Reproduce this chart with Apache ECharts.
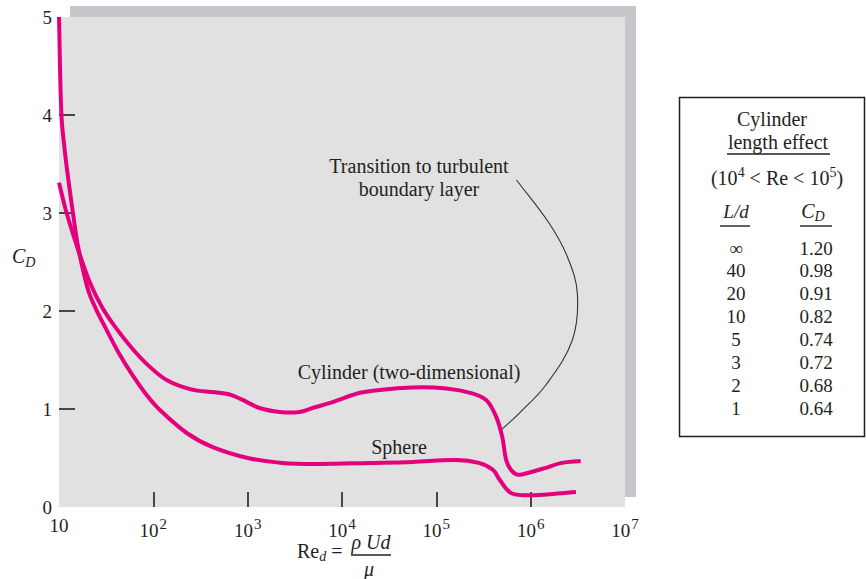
<!DOCTYPE html>
<html><head><meta charset="utf-8">
<script src="https://cdn.jsdelivr.net/npm/echarts@6/dist/echarts.min.js"></script>
<style>html,body{margin:0;padding:0;background:#fff}#c{width:866px;height:579px}</style>
</head><body><div id="c"></div>
<script>
// ---- data (x values are log10(Re_d)) ----
const xTickExponents = [1, 2, 3, 4, 5, 6, 7];
const yTickValues = [0, 1, 2, 3, 4, 5];
const sphereLogRe = [1.00, 1.026, 1.063, 1.106, 1.148, 1.196, 1.254, 1.317, 1.392, 1.508, 1.635, 1.783, 1.931, 2.069, 2.354, 2.630, 3.00, 3.37, 3.76, 4.30, 4.75, 5.20, 5.45, 5.60, 5.67, 5.78, 5.92, 6.20, 6.48];
const sphereCD    = [5.00, 4.00, 3.62, 3.29, 3.00, 2.69, 2.42, 2.19, 2.02, 1.80, 1.57, 1.34, 1.14, 0.99, 0.755, 0.61, 0.50, 0.45, 0.44, 0.45, 0.46, 0.48, 0.45, 0.38, 0.28, 0.15, 0.12, 0.13, 0.153];
const cylinderLogRe = [1.00, 1.081, 1.201, 1.328, 1.455, 1.593, 1.783, 1.963, 2.15, 2.40, 2.65, 2.80, 2.93, 3.127, 3.339, 3.55, 3.688, 3.90, 4.22, 4.746, 5.106, 5.38, 5.53, 5.635, 5.70, 5.74, 5.79, 5.86, 5.98, 6.16, 6.33, 6.53];
const cylinderCD    = [3.31, 3.00, 2.63, 2.29, 2.04, 1.84, 1.61, 1.43, 1.29, 1.20, 1.17, 1.15, 1.10, 1.01, 0.97, 0.97, 1.01, 1.07, 1.17, 1.22, 1.21, 1.16, 1.09, 0.92, 0.71, 0.48, 0.38, 0.33, 0.35, 0.40, 0.45, 0.47];
const leaderLogRe = [5.850, 6.196, 6.389, 6.495, 6.442, 6.161, 5.878, 5.694];
const leaderCD    = [3.337, 2.895, 2.554, 2.181, 1.704, 1.245, 0.956, 0.793];
const tableLd = ['∞', '40', '20', '10', '5', '3', '2', '1'];
const tableCD = ['1.20', '0.98', '0.91', '0.82', '0.74', '0.72', '0.68', '0.64'];

// ---- styling ----
const SERIF = '"Liberation Serif", "Times New Roman", serif';
const INK = '#231f20';
const MAGENTA = '#e4007c';
const zip = (a, b) => a.map((v, i) => [v, b[i]]);

// smooth spline through pixel points (points come from api.coord)
function splinePath(pts, t) {
  const n = pts.length;
  const dist = (a, b) => Math.hypot(a[0] - b[0], a[1] - b[1]);
  let d = 'M' + pts[0][0].toFixed(2) + ' ' + pts[0][1].toFixed(2);
  for (let i = 0; i < n - 1; i++) {
    const p0 = pts[i - 1], p1 = pts[i], p2 = pts[i + 1], p3 = pts[i + 2];
    const d12 = dist(p1, p2);
    let c1, c2;
    if (!p0) c1 = [p1[0] + (p2[0] - p1[0]) * t, p1[1] + (p2[1] - p1[1]) * t];
    else { const r = d12 / (dist(p0, p1) + d12); c1 = [p1[0] + (p2[0] - p0[0]) * r * t, p1[1] + (p2[1] - p0[1]) * r * t]; }
    if (!p3) c2 = [p2[0] - (p2[0] - p1[0]) * t, p2[1] - (p2[1] - p1[1]) * t];
    else { const r = d12 / (d12 + dist(p2, p3)); c2 = [p2[0] - (p3[0] - p1[0]) * r * t, p2[1] - (p3[1] - p1[1]) * r * t]; }
    d += ' C' + c1[0].toFixed(2) + ' ' + c1[1].toFixed(2) + ' ' + c2[0].toFixed(2) + ' ' + c2[1].toFixed(2) + ' ' + p2[0].toFixed(2) + ' ' + p2[1].toFixed(2);
  }
  return d;
}
function curveSeries(name, xs, ys, color, width, z) {
  return {
    name: name, type: 'custom', z: z, silent: true,
    data: zip(xs, ys),
    encode: { x: 0, y: 1 },
    renderItem: function (params, api) {
      if (params.dataIndex !== 0) return null;
      const pts = xs.map((x, i) => api.coord([x, ys[i]]));
      return {
        type: 'path',
        shape: { pathData: splinePath(pts, 0.36) },
        style: { fill: 'none', stroke: color, lineWidth: width, lineJoin: 'round', lineCap: 'butt' }
      };
    }
  };
}

function txt(x, y, text, size, opts) {
  opts = opts || {};
  return {
    type: 'text', x: x, y: y, z: 50,
    style: Object.assign({
      text: text,
      font: (opts.italic ? 'italic ' : '') + size + 'px ' + SERIF,
      fill: INK,
      align: opts.align || 'center', textAlign: opts.align || 'center',
      verticalAlign: 'middle', textVerticalAlign: 'middle'
    }, opts.rich ? { rich: opts.rich } : {})
  };
}
function hline(x1, x2, y, w) {
  return { type: 'line', z: 50, shape: { x1: x1, y1: y, x2: x2, y2: y }, style: { stroke: INK, lineWidth: w || 1.2 } };
}

const graphics = [
  // drop shadow of the plot panel
  { type: 'rect', z: -10, silent: true, shape: { x: 70, y: 6, width: 566, height: 491 }, style: { fill: '#c6c7ca' } },
  // y-axis name C_D
  txt(12, 256, '{c|C}{d|D}', 20, { align: 'left', rich: {
    c: { font: 'italic 20px ' + SERIF, fill: INK },
    d: { font: 'italic 14px ' + SERIF, fill: INK, padding: [12, 0, 0, 0] } } }),
  // x-axis name Re_d = rho U d / mu
  txt(297, 551, '{r|Re}{d|d}{r| = }', 20, { align: 'left', rich: {
    r: { font: '20px ' + SERIF, fill: INK },
    d: { font: 'italic 14px ' + SERIF, fill: INK, padding: [10, 0, 0, 0] } } }),
  txt(371, 542, 'ρ Ud', 20, { italic: true }),
  hline(351, 391, 555, 1.3),
  txt(369, 569, 'μ', 20, { italic: true }),
  // annotations
  txt(419, 166, 'Transition to turbulent', 20),
  txt(419, 189, 'boundary layer', 20),
  txt(409, 372, 'Cylinder (two-dimensional)', 20),
  txt(399, 447, 'Sphere', 20),
  // table box
  { type: 'rect', z: 50, shape: { x: 679.5, y: 97.5, width: 185, height: 339 }, style: { fill: 'none', stroke: INK, lineWidth: 1.5 } },
  txt(772, 119, 'Cylinder', 20),
  txt(778, 142, 'length effect', 20),
  hline(727, 830, 154, 1.4),
  txt(777, 178, '{a|(10}{s|4}{a| < Re < 10}{s|5}{a|)}', 20, { rich: {
    a: { font: '20px ' + SERIF, fill: INK },
    s: { font: '14px ' + SERIF, fill: INK, padding: [0, 0, 12, 0] } } }),
  txt(736, 211, 'L/d', 19, { italic: true }),
  hline(720, 750, 226, 1.4),
  txt(813, 211, '{c|C}{d|D}', 19, { rich: {
    c: { font: 'italic 20px ' + SERIF, fill: INK },
    d: { font: 'italic 14px ' + SERIF, fill: INK, padding: [10, 0, 0, 0] } } }),
  hline(800, 832, 226, 1.4)
];
tableLd.forEach((v, i) => {
  const y = 248 + i * 22.86;
  graphics.push(txt(736, y, v, 19));
  graphics.push(txt(816, y, tableCD[i], 19));
});

const chart = echarts.init(document.getElementById('c'), null, { renderer: 'svg' });
chart.setOption({
  animation: false,
  backgroundColor: '#fff',
  grid: { left: 59, right: 241, top: 17, bottom: 72, show: true, backgroundColor: '#e1e1e1', borderWidth: 0, z: 0 },
  xAxis: {
    type: 'value', min: 1, max: 7, interval: 1,
    axisLine: { show: false },
    splitLine: { show: false },
    axisTick: { show: true, inside: true, length: 15, customValues: xTickExponents.slice(1, -1), lineStyle: { color: INK, width: 1.6 } },
    axisLabel: {
      margin: 9, color: INK, fontFamily: SERIF, fontSize: 19,
      customValues: xTickExponents,
      formatter: v => v === 1 ? '{b|10}' : '{b|10}{s|' + v + '}',
      rich: {
        b: { fontFamily: SERIF, fontSize: 19, color: INK },
        s: { fontFamily: SERIF, fontSize: 15, color: INK, padding: [0, 0, 14, 1] }
      }
    }
  },
  yAxis: {
    type: 'value', min: 0, max: 5, interval: 1,
    axisLine: { show: false },
    splitLine: { show: false },
    axisTick: { show: true, inside: true, length: 16, customValues: yTickValues.slice(1, -1), lineStyle: { color: INK, width: 1.6 } },
    axisLabel: { margin: 7, color: INK, fontFamily: SERIF, fontSize: 19, customValues: yTickValues }
  },
  series: [
    curveSeries('Sphere', sphereLogRe, sphereCD, MAGENTA, 4, 5),
    curveSeries('Cylinder (two-dimensional)', cylinderLogRe, cylinderCD, MAGENTA, 4, 5),
    curveSeries('leader', leaderLogRe, leaderCD, '#333', 1.1, 4)
  ],
  graphic: graphics
});
</script></body></html>
